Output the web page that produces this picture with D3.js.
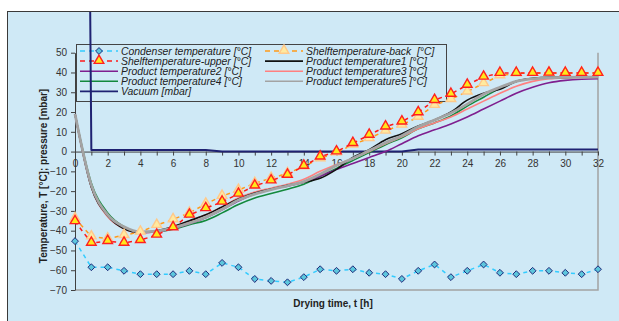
<!DOCTYPE html>
<html>
<head>
<meta charset="utf-8">
<script src="https://cdn.jsdelivr.net/npm/d3@7"></script>
<style>
  body { margin: 0; background: #fff; }
  svg { display: block; font-family: "Liberation Sans", Arial, sans-serif; }
</style>
</head>
<body>
<div id="chart"></div>
<script>
// drying time in hours
var hours = [0, 1, 2, 3, 4, 5, 6, 7, 8, 9, 10, 11, 12, 13, 14, 15, 16,
  17, 18, 19, 20, 21, 22, 23, 24, 25, 26, 27, 28, 29, 30, 31, 32];

var condenser = [-45.3, -58.5, -58.5, -60.3, -62, -62, -62, -60.3, -62, -56.3, -58.5,
  -64.4, -65.4, -66.1, -63.5, -59.5, -60.3, -59.5, -61.3, -62, -64.4, -60.3, -57.1,
  -63.5, -60.3, -57.1, -61.3, -62, -60.3, -60.3, -61.3, -62, -59.5];
var shelfUpper = [-35.3, -46.2, -45.3, -46.2, -44.8, -42.1, -38.4, -32, -28.7, -25.4, -21.4,
  -17.3, -14.7, -11.8, -7.3, -2.6, 0, 4.2, 8.4, 12.6, 15.1, 19.8, 26, 29.1, 33.7, 37.8,
  39.7, 39.7, 39.7, 39.8, 39.7, 39.7, 39.7];
var shelfBack = [-33.8, -43, -44, -42.3, -40.6, -37.2, -34.3, -31, -26.5, -22.5, -19.5,
  -16, -13.5, -11, -7.5, -3.5, -0.5, 3.5, 6.7, 10.5, 13.5, 17.5, 23.5, 26.5, 30.3, 34.5,
  38.5, 39.5, 39.7, 39.7, 39.7, 39.7, 39.7];
var product1 = [19, -18, -32.5, -39, -41, -40, -38, -35, -32, -28, -24, -21, -19, -17,
  -15.5, -13.5, -9, -3, 1, 6, 9, 13, 16, 20, 26, 29.5, 31.5, 35.5, 37, 37.5, 37.5, 37.6, 37.6];
var product2 = [19, -17.5, -32, -38.5, -41, -40.5, -39, -36.5, -33.5, -29.5, -25, -21.5,
  -19, -17.5, -15.5, -12.5, -9, -6, -3, 0, 4, 8, 11, 14, 17.5, 21.5, 25.5, 29.5, 32.5,
  34.8, 36, 36.6, 36.8];
var product3 = [19, -18, -33, -39, -41, -40.5, -38.5, -35.2, -32, -28, -23.5, -20.5, -18.5,
  -16.5, -14, -10, -6.5, -3.5, 0, 4, 7.5, 11.5, 14.5, 17.5, 21.5, 25.5, 29.5, 33, 35.5,
  36.8, 37.3, 37.5, 37.6];
var product4 = [19, -16, -31, -38, -40.8, -40.6, -39.3, -37, -34.8, -31, -26.8, -23.5, -21.2,
  -19, -16.5, -12.5, -8.5, -4.5, -0.5, 3.5, 7, 11.5, 14.5, 18, 23, 27.5, 32, 35.5, 36.8,
  37.3, 37.5, 37.6, 37.6];
var product5 = [19, -17, -32, -38, -40.6, -40.2, -38.6, -36.2, -33.2, -29.2, -24.5, -21.5,
  -19.2, -17.3, -15.2, -11.5, -7, -3.5, 0.5, 4.5, 8, 12.5, 16, 19.5, 24, 29, 32.5, 35.5,
  36.8, 37.3, 37.5, 37.6, 37.6];
var vacuum = [1000, 0.8, 0.8, 0.8, 0.8, 0.8, 0.8, 0.8, 0.8, 0, 0, 0, 0, 0, 0, 0, 0, 0, 0,
  0, 0, 1, 1, 1, 1, 1, 1, 1, 1, 1, 1, 1, 1];

var yTicks = [-70, -60, -50, -40, -30, -20, -10, 0, 10, 20, 30, 40, 50];
var xLabels = [0, 2, 4, 6, 8, 10, 12, 14, 16, 18, 20, 22, 24, 26, 28, 30, 32];

var W = 619, H = 321;
var svg = d3.select("#chart").append("svg").attr("width", W).attr("height", H);

// chart area frame
svg.append("defs").append("clipPath").attr("id", "frame")
  .append("rect").attr("x", 8).attr("y", 12).attr("width", W).attr("height", H);
svg.append("rect").attr("x", 7.5).attr("y", 11.5).attr("width", W).attr("height", H)
  .attr("fill", "#cfe9f6").attr("stroke", "#3a3a3a").attr("stroke-width", 1);

var x = d3.scaleLinear().domain([0, 32]).range([75, 598]);
var y = d3.scaleLinear().domain([-70, 50]).range([290, 52.7]);

// plot border (right + bottom)
svg.append("path").attr("d", "M75," + y(-70) + "H" + x(32) + "V" + y(50))
  .attr("fill", "none").attr("stroke", "#a3a3a3").attr("stroke-width", 1.5);

// y axis
var yAxis = svg.append("g").attr("transform", "translate(75,0)")
  .call(d3.axisLeft(y).tickValues(yTicks).tickSize(4).tickSizeOuter(0).tickPadding(4)
    .tickFormat(d3.format("d")));
yAxis.select(".domain").attr("stroke", "#404040");
yAxis.selectAll(".tick line").attr("stroke", "#404040");
yAxis.selectAll("text").attr("font-size", 10).attr("fill", "#333")
  .attr("font-family", "Liberation Sans, Arial, sans-serif");

// x axis at y = 0
var xAxis = svg.append("g").attr("transform", "translate(0," + y(0) + ")")
  .call(d3.axisBottom(x).tickValues(hours).tickSize(4).tickSizeOuter(0).tickPadding(4)
    .tickFormat(function (d) { return xLabels.indexOf(d) >= 0 ? d : ""; }));
xAxis.select(".domain").attr("stroke", "#404040");
xAxis.selectAll(".tick line").attr("stroke", "#404040");
xAxis.selectAll("text").attr("font-size", 10).attr("fill", "#333")
  .attr("font-family", "Liberation Sans, Arial, sans-serif");

// axis titles
svg.append("text").attr("x", 333).attr("y", 307).attr("text-anchor", "middle")
  .attr("font-size", 10).attr("font-weight", "bold").attr("fill", "#222")
  .text("Drying time, t [h]");
svg.append("text").attr("transform", "translate(47,176) rotate(-90)")
  .attr("text-anchor", "middle").attr("font-size", 10).attr("font-weight", "bold")
  .attr("fill", "#222").text("Temperature, T [°C]; pressure [mbar]");

// series styles
var series = [
  { name: "Condenser temperature [°C]", values: condenser, color: "#33ccff", dash: "4,4", width: 1.5, marker: "diamond", col: 0, row: 0 },
  { name: "Shelftemperature-back  [°C]", values: shelfBack, color: "#ff9a1a", dash: "4,4", width: 1.5, marker: "paletri", col: 1, row: 0 },
  { name: "Shelftemperature-upper [°C]", values: shelfUpper, color: "#ff1a1a", dash: "4,4", width: 1.5, marker: "tri", col: 0, row: 1 },
  { name: "Product temperature1 [°C]", values: product1, color: "#111111", width: 1.6, col: 1, row: 1 },
  { name: "Product temperature2 [°C]", values: product2, color: "#7f1f8f", width: 1.6, col: 0, row: 2 },
  { name: "Product temperature3 [°C]", values: product3, color: "#ff8080", width: 1.6, col: 1, row: 2 },
  { name: "Product temperature4 [°C]", values: product4, color: "#13893c", width: 1.6, col: 0, row: 3 },
  { name: "Product temperature5 [°C]", values: product5, color: "#a3a3a3", width: 2.8, col: 1, row: 3 },
  { name: "Vacuum [mbar]", values: vacuum, color: "#1f2272", width: 2, col: 0, row: 4 }
];

// legend (drawn under the series)
var legend = svg.append("g");
legend.append("rect").attr("x", 76.5).attr("y", 44.5).attr("width", 370).attr("height", 57)
  .attr("fill", "#cfe9f6").attr("stroke", "#444").attr("stroke-width", 1);
var colX = [80, 265], textX = [121, 306];
series.forEach(function (s) {
  var ly = 51 + s.row * 10.1;
  var lx = colX[s.col];
  legend.append("line").attr("x1", lx).attr("x2", lx + 38).attr("y1", ly).attr("y2", ly)
    .attr("stroke", s.color).attr("stroke-width", s.dash ? 1.5 : 1.6)
    .attr("stroke-dasharray", s.dash ? "5,4" : null);
  if (s.marker) drawMarker(legend, s.marker, lx + 19, ly);
  legend.append("text").attr("x", textX[s.col]).attr("y", ly + 3.6)
    .attr("font-size", 10.4).attr("font-style", "italic").attr("fill", "#222")
    .attr("xml:space", "preserve").style("white-space", "pre").text(s.name);
});

function drawMarker(g, type, cx, cy) {
  if (type === "diamond") {
    g.append("path").attr("d", d3.symbol(d3.symbolDiamond2, 30)())
      .attr("transform", "translate(" + cx + "," + cy + ")")
      .attr("fill", "#5cc6dc").attr("stroke", "#1f2a7a").attr("stroke-width", 1);
  } else if (type === "tri") {
    g.append("path").attr("d", d3.symbol(d3.symbolTriangle, 40)())
      .attr("transform", "translate(" + cx + "," + (cy - 0.5) + ")")
      .attr("fill", "#ffe81a").attr("stroke", "#ff2020").attr("stroke-width", 1.4);
  } else if (type === "paletri") {
    g.append("path").attr("d", d3.symbol(d3.symbolTriangle, 40)())
      .attr("transform", "translate(" + cx + "," + (cy - 0.5) + ")")
      .attr("fill", "#ffeaa0").attr("stroke", "#ffc98a").attr("stroke-width", 1.4);
  }
}

// plotted series
var plot = svg.append("g").attr("clip-path", "url(#frame)");
var drawOrder = [8, 6, 4, 5, 3, 7, 0, 1, 2];
drawOrder.forEach(function (i) {
  var s = series[i];
  var pts = hours.map(function (h, k) { return [h, s.values[k]]; });
  var line = d3.line().x(function (d) { return x(d[0]); }).y(function (d) { return y(d[1]); });
  if (!s.dash && i !== 8) line.curve(d3.curveMonotoneX);
  plot.append("path").datum(pts).attr("d", line).attr("fill", "none")
    .attr("stroke", s.color).attr("stroke-width", s.width)
    .attr("stroke-dasharray", s.dash || null).attr("stroke-linejoin", "round");
  if (s.marker) {
    pts.forEach(function (p) { drawMarker(plot, s.marker, x(p[0]), y(p[1])); });
  }
});
</script>
</body>
</html>
